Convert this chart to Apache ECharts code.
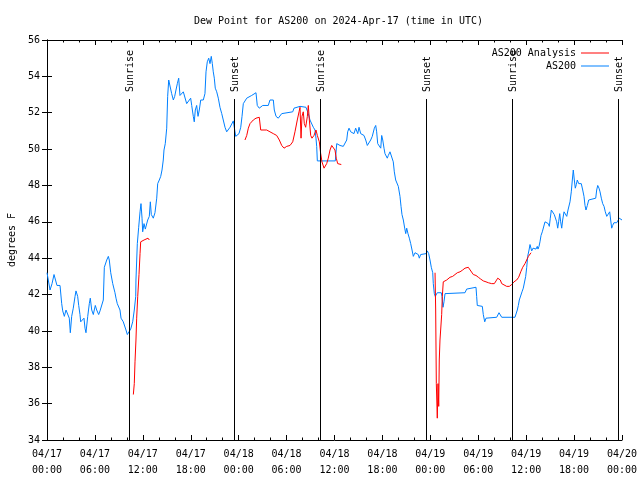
<!DOCTYPE html>
<html>
<head>
<meta charset="utf-8">
<script src="https://cdn.jsdelivr.net/npm/echarts@6/dist/echarts.min.js"></script>
<style>html,body{margin:0;padding:0;background:#fff}#c{width:640px;height:480px}</style>
</head>
<body>
<div id="c"></div>
<script>
// Hours since 2024-04-17 00:00 UTC
const blueHours = [0.0,0.16,0.38,0.63,0.88,1.25,1.63,1.84,1.97,2.17,2.38,2.59,2.79,2.92,3.09,3.29,3.51,3.63,3.84,3.97,4.13,4.22,4.47,4.63,4.76,4.88,5.10,5.30,5.42,5.60,5.80,5.92,6.05,6.22,6.47,6.64,6.89,7.05,7.18,7.48,7.68,7.80,7.98,8.23,8.51,8.64,8.80,8.98,9.14,9.27,9.55,9.77,9.89,10.06,10.31,10.48,10.73,10.93,11.11,11.14,11.31,11.48,11.65,11.77,11.90,11.98,12.15,12.31,12.48,12.61,12.81,12.94,13.06,13.31,13.52,13.74,13.86,14.06,14.24,14.40,14.56,14.65,14.81,14.99,15.11,15.24,15.40,15.61,15.82,15.99,16.15,16.32,16.49,16.65,16.87,17.07,17.28,17.49,17.74,17.99,18.12,18.32,18.44,18.57,18.74,18.91,19.07,19.25,19.57,19.78,19.91,20.07,20.25,20.41,20.57,20.70,20.82,20.95,21.07,21.25,21.45,21.66,21.88,22.08,22.29,22.50,22.70,22.92,23.13,23.33,23.45,23.63,23.83,24.04,24.26,24.42,24.58,24.79,25.01,25.21,25.63,25.83,26.17,26.33,26.58,26.76,27.01,27.71,27.92,28.14,28.34,28.46,28.68,28.96,29.18,29.39,29.59,30.77,30.93,31.18,31.68,32.43,32.60,32.72,32.93,33.15,33.35,33.56,33.68,33.77,33.85,36.10,36.28,36.69,36.90,37.10,37.32,37.53,37.65,37.82,38.03,38.23,38.44,38.65,38.91,39.07,39.28,39.48,39.69,39.91,40.11,40.32,40.53,40.73,40.99,41.16,41.28,41.41,41.61,41.79,41.91,42.04,42.20,42.32,42.54,42.61,42.74,42.95,43.16,43.36,43.49,43.66,43.86,43.99,44.20,44.33,44.45,44.62,44.79,44.92,45.04,45.20,45.37,45.54,45.71,45.87,46.08,46.29,46.49,46.62,46.79,46.96,47.46,47.62,47.79,47.96,48.12,48.30,48.37,48.50,48.62,48.75,48.87,49.37,49.46,49.59,49.71,49.84,49.92,52.34,52.55,52.75,53.72,53.80,53.88,54.51,54.63,54.81,54.97,55.14,56.31,56.44,56.60,56.85,56.94,58.60,58.73,58.89,59.02,59.14,59.32,59.48,59.64,59.82,59.94,60.07,60.19,60.36,60.48,60.57,60.69,60.86,61.02,61.23,61.39,61.48,61.61,61.73,61.86,62.02,62.20,62.36,62.57,62.77,62.90,63.02,63.15,63.32,63.52,63.70,63.82,63.95,64.07,64.20,64.32,64.45,64.57,64.74,64.90,65.08,65.24,65.36,65.49,65.65,65.78,65.90,66.03,66.15,66.28,66.40,66.58,66.74,66.90,67.08,67.24,67.37,67.49,67.66,67.83,67.99,68.71,68.83,68.96,69.12,69.25,69.41,69.58,69.75,69.91,70.09,70.29,70.46,70.58,70.71,70.83,70.99,71.34,71.54,71.66,72.0];
const blueValues = [43.2,43.2,42.25,42.6,43.1,42.5,42.5,41.5,41.1,40.8,41.15,41.1,40.7,39.9,40.8,41.25,41.9,42.2,41.9,41.4,40.9,40.5,40.4,40.7,40.15,39.9,40.8,41.5,41.8,41.15,40.9,41.15,41.4,41.15,40.9,41.1,41.15,41.7,43.5,43.9,44.1,43.9,43.2,42.6,42.1,41.8,41.5,41.6,41.15,40.7,40.5,40.6,40.05,39.8,39.85,40.1,40.5,41.15,41.9,42.8,44.8,45.7,46.55,47.0,46.2,45.45,45.9,45.6,45.55,46.1,46.3,47.1,46.4,46.2,46.5,47.3,48.1,48.3,48.5,48.85,49.4,49.95,50.3,51.15,52.9,53.8,53.7,53.05,52.7,52.9,53.25,53.6,53.9,52.95,52.9,53.15,53.05,52.5,52.5,52.8,52.4,51.8,51.5,52.15,52.4,51.8,52.15,52.7,52.7,53.05,54.25,54.8,55.0,54.7,55.1,54.7,54.25,53.9,53.35,53.15,52.8,52.3,51.95,51.9,51.2,50.95,50.95,51.2,51.25,51.55,51.2,50.7,50.75,50.85,51.2,51.8,52.5,52.6,52.8,52.9,52.95,52.95,53.1,52.4,52.25,52.15,52.4,52.4,52.7,52.8,52.7,52.15,51.8,51.7,51.8,51.95,52.05,52.05,52.25,52.3,52.35,52.3,52.35,51.95,51.6,51.7,51.2,51.05,50.6,50.15,49.35,49.35,50.3,50.2,50.3,50.15,50.05,50.5,50.95,51.15,50.95,51.05,50.85,51.15,50.85,51.2,50.85,50.95,50.75,50.5,50.2,50.3,50.5,50.7,51.15,51.3,50.95,50.3,50.4,50.05,50.75,50.5,50.05,49.75,49.65,49.5,49.65,49.85,49.95,49.3,48.75,48.3,48.4,47.95,47.4,46.85,46.4,46.1,45.65,45.35,45.65,45.35,45.1,44.8,44.45,44.1,44.3,44.35,44.2,44.0,44.2,44.25,44.25,44.4,44.25,43.9,43.5,43.2,42.6,42.05,41.9,42.0,42.1,42.1,41.9,41.3,41.6,42.05,42.1,42.1,42.3,42.4,42.4,41.9,41.4,41.35,40.9,40.5,40.7,40.75,40.75,40.85,41.0,41.0,40.75,40.75,40.85,41.15,41.4,41.7,41.8,42.15,42.35,42.45,43.0,43.5,44.1,44.45,44.75,44.8,44.4,44.55,44.65,44.5,44.65,44.5,44.65,44.9,45.25,45.45,45.55,46.0,46.05,45.9,45.75,46.2,46.65,46.55,46.4,46.4,46.0,45.65,46.0,46.45,46.0,45.65,46.1,46.55,46.65,46.3,46.65,46.75,47.1,47.65,48.3,48.85,48.3,47.85,48.05,48.3,48.1,48.2,48.1,47.75,47.4,46.9,46.65,46.9,47.2,47.3,47.3,47.75,48.0,47.85,47.65,47.3,47.0,46.85,46.55,46.3,46.4,46.55,46.1,45.65,45.8,45.95,45.95,46.0,46.2,46.1];

const red1Hours = [10.81,10.93,11.02,11.14,11.23,11.36,11.52,11.65,11.73,11.93,12.15,12.40,12.65,12.81];
const red1Values = [36.5,37.1,38.3,39.5,40.7,41.9,43.1,44.25,44.9,44.95,45.0,45.05,45.1,45.0];
const red2Hours = [24.79,25.01,25.21,25.42,25.63,25.83,26.17,26.33,26.58,26.76,27.51,27.92,28.34,28.76,29.09,29.39,29.68,30.02,30.43,30.77,31.05,31.34,31.56,31.68,31.81,31.93,32.09,32.22,32.39,32.60,32.72,32.85,33.02,33.18,33.43,33.68,33.85,34.10,34.27,34.43,34.69,34.85,35.02,35.22,35.44,35.65,35.85,36.06,36.22,36.40,36.60,36.85];
const red2Values = [50.5,50.75,51.15,51.4,51.5,51.6,51.7,51.8,51.75,51.05,51.05,50.95,50.85,50.75,50.5,50.2,50.05,50.15,50.2,50.4,50.95,51.6,52.05,52.3,50.6,51.8,52.05,51.4,51.2,51.8,52.4,51.6,50.75,50.6,50.75,51.05,50.75,50.4,49.75,49.3,48.95,48.85,49.2,49.5,49.95,50.2,50.3,49.95,49.5,49.2,49.15,49.15];
const red3Hours = [48.59,48.67,48.75,48.87,48.96,49.05,49.12,49.21,49.34,49.42,49.50,49.62,49.84,50.05,50.25,50.46,50.80,51.09,51.38,51.72,52.05,52.34,52.55,52.75,52.97,53.38,53.72,54.01,54.31,54.63,54.97,55.26,55.68,56.01,56.23,56.44,56.60,56.76,56.94,57.14,57.56,57.89,58.19,58.48,58.81,59.06,59.32,59.57,59.85,60.07,60.28,60.48,60.61];
const red3Values = [43.2,41.15,37.1,35.2,37.1,35.85,38.4,39.5,39.6,40.9,41.9,42.7,42.75,42.8,42.9,42.95,43.0,43.1,43.2,43.25,43.35,43.45,43.5,43.5,43.4,43.1,43.05,42.95,42.85,42.75,42.7,42.65,42.6,42.6,42.75,42.9,42.95,42.8,42.6,42.55,42.45,42.45,42.55,42.7,42.8,42.95,43.25,43.5,43.7,43.8,44.1,44.2,44.3];

const sunHours = [10.31, 23.45, 34.18, 47.50, 58.27, 71.55];
const sunLabels = ['Sunrise','Sunset','Sunrise','Sunset','Sunrise','Sunset'];

const yMin = 34, yMax = 56, yStep = 2;
const xMin = 0, xMax = 72, xStep = 6;
const titleText = 'Dew Point for AS200 on 2024-Apr-17 (time in UTC)';
const yName = 'degrees F';
const blueName = 'AS200';
const redName = 'AS200 Analysis';

const FONT = 'DejaVu Sans Mono';
const pair = (hs, vs) => hs.map((h, i) => [h, vs[i]]);
const blueData = pair(blueHours, blueValues);
const redData = [].concat(pair(red1Hours, red1Values), [[18, '-']],
                          pair(red2Hours, red2Values), [[42, '-']],
                          pair(red3Hours, red3Values));

function xLabel(v) {
  const day = 17 + Math.floor(v / 24);
  const hr = v % 24;
  const pad = n => (n < 10 ? '0' : '') + n;
  return '04/' + pad(day) + '\n' + pad(hr) + ':00';
}

const baseX = {
  type: 'value', min: xMin, max: xMax, interval: xStep,
  axisLine: { show: true, lineStyle: { color: '#000', width: 1 } },
  axisTick: { show: true, inside: true, length: 5, lineStyle: { color: '#000' } },
  minorTick: { show: true, splitNumber: 3, length: 2.5, lineStyle: { color: '#000' } },
  splitLine: { show: false }
};
const baseY = {
  type: 'value', min: yMin, max: yMax, interval: yStep,
  axisLine: { show: true, lineStyle: { color: '#000', width: 1 } },
  axisTick: { show: true, inside: true, length: 5, lineStyle: { color: '#000' } },
  splitLine: { show: false }
};

const legendText = { fontFamily: FONT, fontSize: 10, color: '#000' };

const chart = echarts.init(document.getElementById('c'), null, { renderer: 'canvas' });
chart.setOption({
  animation: false,
  backgroundColor: '#fff',
  title: {
    text: titleText, left: 189, top: 11,
    textStyle: { fontFamily: FONT, fontSize: 10, fontWeight: 'normal', color: '#000' }
  },
  grid: { left: 47, right: 18, top: 40, bottom: 40, containLabel: false, outerBoundsMode: 'none' },
  legend: [
    { data: [{ name: redName, icon: 'rect' }], right: 26, top: 43, align: 'right', itemWidth: 28, itemHeight: 1, itemGap: 0,
      textStyle: legendText },
    { data: [{ name: blueName, icon: 'rect' }], right: 26, top: 56, align: 'right', itemWidth: 28, itemHeight: 1, itemGap: 0,
      textStyle: legendText }
  ],
  xAxis: [
    Object.assign({}, baseX, {
      position: 'bottom',
      axisLabel: { formatter: xLabel, fontFamily: FONT, fontSize: 10, color: '#000', lineHeight: 16, margin: 6 }
    }),
    Object.assign({}, baseX, { position: 'top', axisLabel: { show: false } })
  ],
  yAxis: [
    Object.assign({}, baseY, {
      position: 'left', name: yName, nameLocation: 'middle', nameGap: 29,
      nameTextStyle: { fontFamily: FONT, fontSize: 10, color: '#000' },
      axisLabel: { fontFamily: FONT, fontSize: 10, color: '#000', margin: 7 }
    }),
    Object.assign({}, baseY, { position: 'right', axisLabel: { show: false } })
  ],
  series: [
    {
      name: redName, type: 'line', data: redData, symbol: 'none', showSymbol: false,
      connectNulls: false, lineStyle: { color: '#ff0000', width: 1 }, itemStyle: { color: '#ff0000' }, z: 3
    },
    {
      name: blueName, type: 'line', data: blueData, symbol: 'none', showSymbol: false,
      lineStyle: { color: '#0080ff', width: 1 }, itemStyle: { color: '#0080ff' }, z: 2
    },
    {
      name: 'sun', type: 'custom', z: 4,
      data: sunHours.map((h, i) => ({ value: [h, yMin], name: sunLabels[i] })),
      renderItem: function (params, api) {
        const t = api.value(0);
        const pb = api.coord([t, yMin]);
        const pt = api.coord([t, yMax]);
        const x = Math.round(pb[0]) + 0.5;
        return {
          type: 'group',
          children: [
            { type: 'line', shape: { x1: x, y1: pb[1], x2: x, y2: pt[1] + 59 },
              style: { stroke: '#000', lineWidth: 1 } },
            { type: 'text', x: x + 1, y: pt[1] + 52, rotation: Math.PI / 2,
              style: { text: sunLabels[params.dataIndex], fill: '#000', font: '10px ' + FONT,
                       textAlign: 'left', textVerticalAlign: 'middle' } }
          ]
        };
      }
    }
  ]
});
</script>
</body>
</html>
